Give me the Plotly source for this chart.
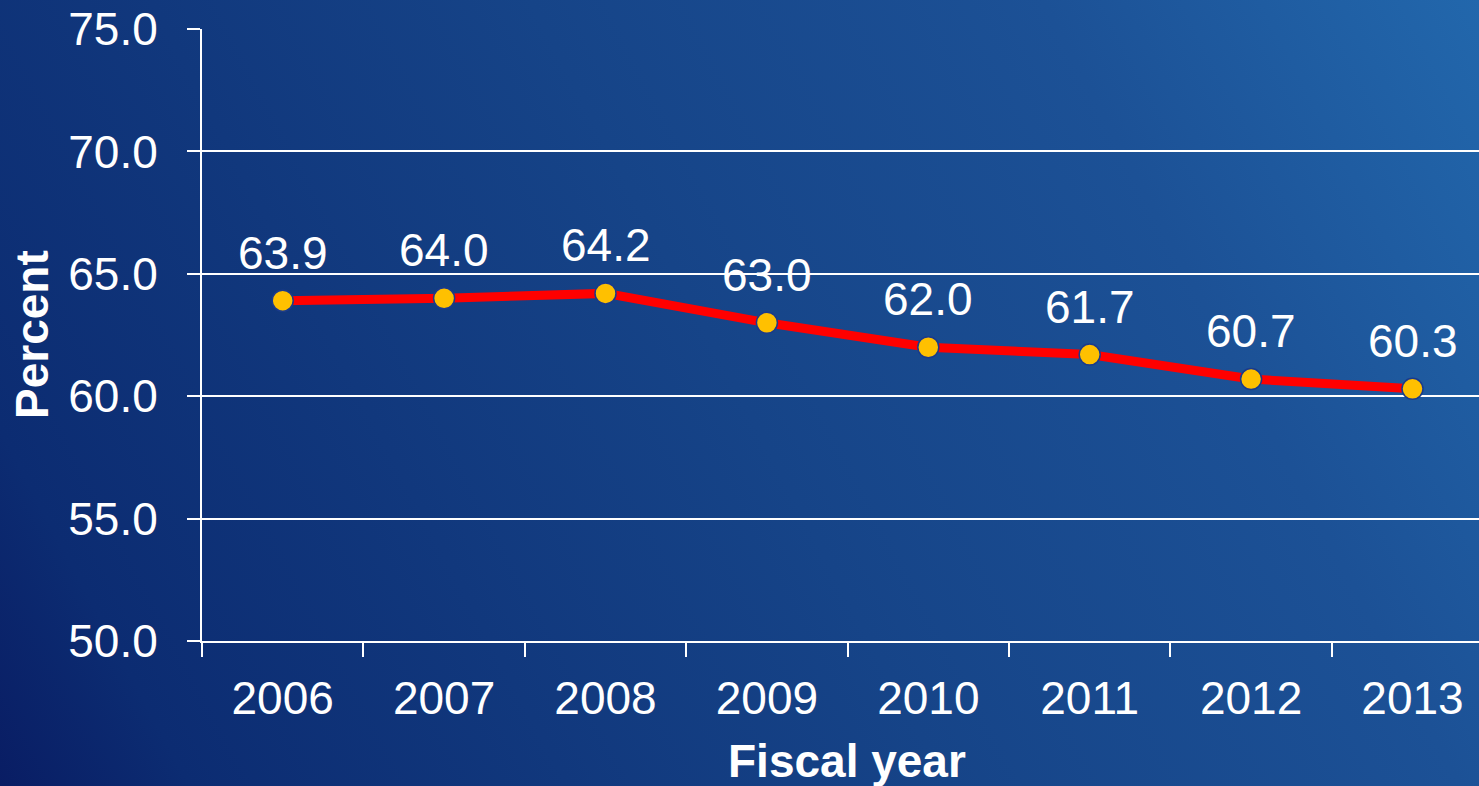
import base64
import plotly.graph_objects as go

years = ["2006", "2007", "2008", "2009", "2010", "2011", "2012", "2013"]
percent = [63.9, 64.0, 64.2, 63.0, 62.0, 61.7, 60.7, 60.3]
y_ticks = [50.0, 55.0, 60.0, 65.0, 70.0, 75.0]

W, H = 1479, 786
ML, MR, MT, MB = 202, 0, 29, 145
PW, PH = W - ML - MR, H - MT - MB

FONT = "Liberation Sans, Arial, sans-serif"

svg = (
    '<svg xmlns="http://www.w3.org/2000/svg" width="1479" height="786" '
    'viewBox="0 0 1479 786" preserveAspectRatio="none">'
    '<defs><linearGradient id="g" gradientUnits="userSpaceOnUse" '
    'x1="0" y1="786" x2="1479" y2="0">'
    '<stop offset="0" stop-color="#091d64"/>'
    '<stop offset="0.1" stop-color="#0c2c72"/>'
    '<stop offset="0.5" stop-color="#164488"/>'
    '<stop offset="0.77" stop-color="#1c5196"/>'
    '<stop offset="1" stop-color="#2267ac"/>'
    '</linearGradient></defs>'
    '<rect width="1479" height="786" fill="url(#g)"/></svg>'
)
src = "data:image/svg+xml;base64," + base64.b64encode(svg.encode()).decode()

fig = go.Figure()
fig.add_trace(go.Scatter(
    x=years, y=percent, mode="lines+markers",
    line=dict(color="#ff0000", width=9),
    marker=dict(size=21, color="#ffc000", line=dict(color="#1a3a8c", width=1.5)),
    hoverinfo="skip", showlegend=False,
))

for i, v in enumerate(percent):
    fig.add_annotation(
        x=i, y=v, text=f"{v:.1f}", showarrow=False, yshift=48,
        font=dict(family=FONT, size=46, color="white"),
    )

fig.add_annotation(
    xref="paper", yref="paper", x=(847 - ML) / PW, y=0, yshift=-120,
    text="<b>Fiscal year</b>", showarrow=False, yanchor="middle",
    font=dict(family=FONT, size=46, color="white"),
)
fig.add_annotation(
    xref="paper", yref="paper", x=0, xshift=-170, y=0.5,
    text="<b>Percent</b>", showarrow=False, textangle=-90, xanchor="center",
    font=dict(family=FONT, size=46, color="white"),
)

fig.add_layout_image(dict(
    source=src, xref="paper", yref="paper",
    x=-ML / PW, y=1 + MT / PH, sizex=W / PW, sizey=H / PH,
    xanchor="left", yanchor="top", sizing="stretch", layer="below",
))

fig.update_layout(
    width=W, height=H,
    margin=dict(l=ML, r=MR, t=MT, b=MB),
    paper_bgcolor="#0f3376",
    plot_bgcolor="rgba(0,0,0,0)",
    font=dict(family=FONT, size=46, color="white"),
    xaxis=dict(
        type="category", range=[-0.5, -0.5 + PW / 161.4],
        tickson="boundaries", ticks="outside", ticklen=14, tickwidth=1.5,
        tickcolor="white", showline=True, linecolor="white", linewidth=2,
        showgrid=False, ticklabelstandoff=16,
        tickfont=dict(family=FONT, size=46, color="white"),
    ),
    yaxis=dict(
        range=[50, 75], tickvals=y_ticks, tickformat=".1f",
        ticks="outside", ticklen=13, tickwidth=2, tickcolor="white",
        showline=True, linecolor="white", linewidth=2,
        showgrid=True, gridcolor="white", gridwidth=2, zeroline=False,
        ticklabelstandoff=20,
        tickfont=dict(family=FONT, size=46, color="white"),
    ),
)

fig.write_html(
    "out.html",
    config={"displayModeBar": False},
    post_script="document.body.style.margin='0';document.body.style.overflow='hidden';",
)
